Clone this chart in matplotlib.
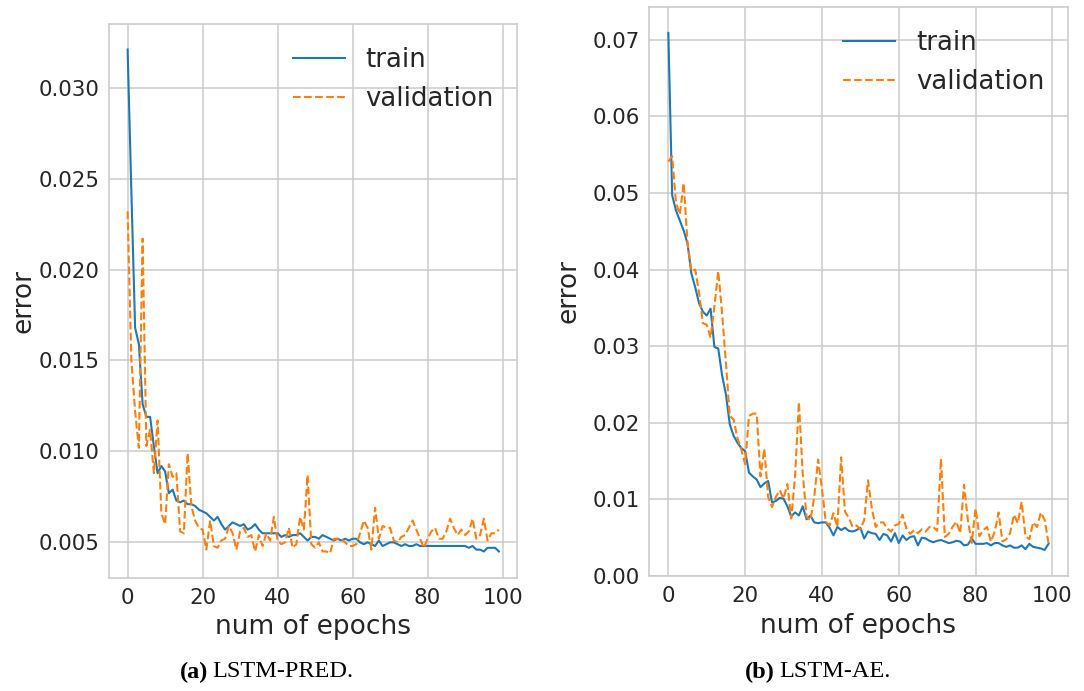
import numpy as np
import matplotlib
matplotlib.use("Agg")
import matplotlib.pyplot as plt

# ---- data -----------------------------------------------------------------
epochs = np.arange(100)

pred_train = [
    0.0321, 0.0243, 0.0168, 0.0159, 0.0126, 0.0119, 0.0119, 0.0103, 0.0088, 0.0092,
    0.0089, 0.0077, 0.0079, 0.0073, 0.0072, 0.0073, 0.0071, 0.0071, 0.0070, 0.0068,
    0.0067, 0.0066, 0.0064, 0.0062, 0.0064, 0.0060, 0.0057, 0.0059, 0.0061, 0.0060,
    0.0059, 0.0060, 0.0057, 0.0058, 0.0060, 0.0057, 0.0055, 0.0055, 0.0055, 0.0055,
    0.0055, 0.0053, 0.0054, 0.0053, 0.0054, 0.0054, 0.0055, 0.0053, 0.0051, 0.0053,
    0.0053, 0.0052, 0.0054, 0.0053, 0.0052, 0.0051, 0.0052, 0.0051, 0.0052, 0.0051,
    0.0052, 0.0052, 0.0050, 0.0049, 0.0050, 0.0049, 0.0048, 0.0051, 0.0048, 0.0049,
    0.0050, 0.0050, 0.0049, 0.0048, 0.0049, 0.0048, 0.0048, 0.0049, 0.0048, 0.0048,
    0.0048, 0.0048, 0.0048, 0.0048, 0.0048, 0.0048, 0.0048, 0.0048, 0.0048, 0.0048,
    0.0048, 0.0047, 0.0048, 0.0046, 0.0046, 0.0045, 0.0047, 0.0047, 0.0047, 0.0045,
]
pred_val = [
    0.0232, 0.0150, 0.0122, 0.0102, 0.0217, 0.0103, 0.0112, 0.0088, 0.0117, 0.0066,
    0.0060, 0.0093, 0.0086, 0.0088, 0.0056, 0.0055, 0.0099, 0.0070, 0.0062, 0.0058,
    0.0057, 0.0046, 0.0062, 0.0048, 0.0047, 0.0051, 0.0052, 0.0059, 0.0055, 0.0046,
    0.0056, 0.0058, 0.0053, 0.0054, 0.0045, 0.0054, 0.0048, 0.0055, 0.0051, 0.0064,
    0.0051, 0.0049, 0.0050, 0.0058, 0.0047, 0.0049, 0.0064, 0.0057, 0.0087, 0.0049,
    0.0047, 0.0050, 0.0045, 0.0045, 0.0044, 0.0052, 0.0052, 0.0052, 0.0050, 0.0048,
    0.0048, 0.0049, 0.0055, 0.0062, 0.0058, 0.0046, 0.0069, 0.0052, 0.0059, 0.0058,
    0.0058, 0.0051, 0.0050, 0.0053, 0.0054, 0.0058, 0.0062, 0.0057, 0.0052, 0.0047,
    0.0052, 0.0056, 0.0058, 0.0052, 0.0052, 0.0056, 0.0063, 0.0058, 0.0054, 0.0057,
    0.0054, 0.0056, 0.0063, 0.0052, 0.0054, 0.0063, 0.0051, 0.0055, 0.0055, 0.0057,
]

ae_train = [
    0.0709, 0.0497, 0.0477, 0.0464, 0.0451, 0.0434, 0.0395, 0.0377, 0.0356, 0.0345,
    0.0340, 0.0349, 0.0299, 0.0297, 0.0262, 0.0237, 0.0198, 0.0183, 0.0174, 0.0167,
    0.0163, 0.0135, 0.0130, 0.0126, 0.0116, 0.0121, 0.0124, 0.0096, 0.0098, 0.0102,
    0.0101, 0.0091, 0.0078, 0.0083, 0.0079, 0.0091, 0.0074, 0.0079, 0.0070, 0.0069,
    0.0070, 0.0070, 0.0063, 0.0053, 0.0064, 0.0060, 0.0063, 0.0059, 0.0058, 0.0060,
    0.0063, 0.0049, 0.0058, 0.0056, 0.0055, 0.0047, 0.0055, 0.0053, 0.0045, 0.0056,
    0.0043, 0.0053, 0.0047, 0.0051, 0.0052, 0.0040, 0.0050, 0.0049, 0.0046, 0.0044,
    0.0046, 0.0047, 0.0045, 0.0043, 0.0044, 0.0046, 0.0045, 0.0040, 0.0041, 0.0049,
    0.0042, 0.0042, 0.0042, 0.0043, 0.0040, 0.0043, 0.0043, 0.0040, 0.0038, 0.0040,
    0.0037, 0.0037, 0.0040, 0.0035, 0.0042, 0.0038, 0.0037, 0.0036, 0.0034, 0.0042,
]
ae_val = [
    0.0541, 0.0548, 0.0487, 0.0472, 0.0513, 0.0435, 0.0398, 0.0400, 0.0370, 0.0330,
    0.0328, 0.0311, 0.0352, 0.0398, 0.0343, 0.0278, 0.0209, 0.0204, 0.0180, 0.0165,
    0.0146, 0.0209, 0.0212, 0.0212, 0.0130, 0.0166, 0.0103, 0.0090, 0.0103, 0.0112,
    0.0101, 0.0120, 0.0075, 0.0130, 0.0227, 0.0134, 0.0077, 0.0073, 0.0103, 0.0152,
    0.0114, 0.0071, 0.0066, 0.0082, 0.0064, 0.0155, 0.0084, 0.0076, 0.0064, 0.0066,
    0.0061, 0.0073, 0.0125, 0.0088, 0.0064, 0.0070, 0.0070, 0.0062, 0.0058, 0.0066,
    0.0068, 0.0080, 0.0062, 0.0055, 0.0060, 0.0056, 0.0061, 0.0058, 0.0064, 0.0064,
    0.0059, 0.0153, 0.0051, 0.0055, 0.0064, 0.0071, 0.0056, 0.0119, 0.0073, 0.0043,
    0.0088, 0.0052, 0.0060, 0.0064, 0.0045, 0.0058, 0.0083, 0.0045, 0.0048, 0.0056,
    0.0080, 0.0069, 0.0097, 0.0052, 0.0048, 0.0070, 0.0064, 0.0083, 0.0073, 0.0043,
]

pred_yticks = [0.005, 0.010, 0.015, 0.020, 0.025, 0.030]
ae_yticks = [0.00, 0.01, 0.02, 0.03, 0.04, 0.05, 0.06, 0.07]
xticks = [0, 20, 40, 60, 80, 100]
captions = [("(a)", "LSTM-PRED."), ("(b)", "LSTM-AE.")]

# ---- style ----------------------------------------------------------------
TEXT = "#262626"
GRID = "#cccccc"
plt.rcParams.update({
    "font.family": ["DejaVu Sans"],
    "text.color": TEXT,
    "axes.labelcolor": TEXT,
    "xtick.color": TEXT,
    "ytick.color": TEXT,
})

fig = plt.figure(figsize=(10.84, 6.91), dpi=100)

ax1 = fig.add_axes([0.1006, 0.1638, 0.3767, 0.8014])
ax2 = fig.add_axes([0.5990, 0.1664, 0.3858, 0.8237])


def style_axes(ax, train, val, yticks, fmt, ylim, ylabelpad):
    ax.plot(epochs, train, color="#1f77b4", lw=1.5, label="train")
    ax.plot(epochs, val, color="#ff7f0e", lw=1.5, ls="--", label="validation")
    ax.set_xlim(-4.95, 103.95)
    ax.set_ylim(*ylim)
    ax.set_xticks(xticks)
    ax.set_yticks(yticks)
    ax.set_yticklabels([fmt.format(v) for v in yticks])
    ax.grid(True, color=GRID, lw=1.1)
    ax.set_axisbelow(True)
    for s in ax.spines.values():
        s.set_color(GRID)
        s.set_linewidth(1.2)
    ax.tick_params(length=0, labelsize=15.4, pad=7)
    ax.set_xlabel("num of epochs", fontsize=19, labelpad=5)
    ax.set_ylabel("error", fontsize=19, labelpad=ylabelpad)
    ax.legend(loc="upper right", frameon=False, fontsize=18.7)


style_axes(ax1, pred_train, pred_val, pred_yticks, "{:.3f}", (0.00305, 0.0335), 1)
style_axes(ax2, ae_train, ae_val, ae_yticks, "{:.2f}", (0.0, 0.0743), 8)

# captions under each panel: bold tag followed by the model name
for (tag, name), split_x in zip(captions, [208 / 1084, 775 / 1084]):
    fig.text(split_x, 0.0275, tag, fontsize=17.5, fontweight="bold",
             family="Liberation Serif", color="black", ha="right", va="center")
    fig.text(split_x + 4 / 1084, 0.0275, name, fontsize=17.5,
             family="Liberation Serif", color="black", ha="left", va="center")

fig.savefig("out.png", dpi=100, facecolor="white")
